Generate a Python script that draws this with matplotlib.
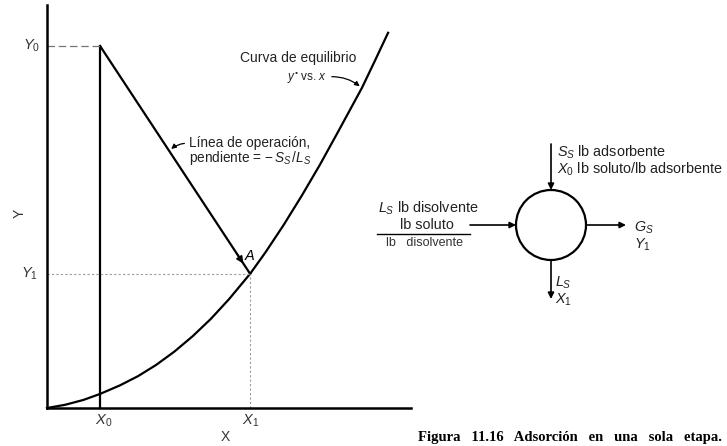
import numpy as np
import matplotlib.pyplot as plt
from matplotlib.patches import Circle

plt.rcParams['font.family'] = ['Liberation Sans', 'DejaVu Sans']
plt.rcParams['mathtext.fontset'] = 'custom'
plt.rcParams['mathtext.rm'] = 'Liberation Sans'
plt.rcParams['mathtext.it'] = 'Liberation Sans:italic'

# Equilibrium curve y* vs. x (arbitrary units 0..1)
eq_x = [0.0, 0.05, 0.10, 0.146, 0.20, 0.25, 0.30, 0.35, 0.40, 0.45, 0.50, 0.558,
        0.60, 0.65, 0.70, 0.75, 0.80, 0.865, 0.90, 0.937]
eq_y = [0.0, 0.008, 0.020, 0.035, 0.056, 0.079, 0.107, 0.140, 0.178, 0.221, 0.270, 0.333,
        0.386, 0.454, 0.527, 0.604, 0.686, 0.794, 0.860, 0.931]

# Feed and outlet compositions
X0, Y0 = 0.146, 0.898
X1, Y1 = 0.558, 0.333

fig = plt.figure(figsize=(7.27, 4.46), dpi=100)

# ---- Operating diagram ----
ax = fig.add_axes([47 / 727, 38 / 446, 364 / 727, 403 / 446])
ax.set_xlim(0, 1)
ax.set_ylim(0, 1)
for s in ['top', 'right']:
    ax.spines[s].set_visible(False)
for s in ['left', 'bottom']:
    ax.spines[s].set_linewidth(1.8)
ax.set_xticks([])
ax.set_yticks([])
ax.patch.set_alpha(0)

ax.plot(eq_x, eq_y, color='black', lw=1.6, clip_on=False, solid_joinstyle='round')
ax.plot([X0, X1], [Y0, Y1], color='black', lw=1.6)
ax.plot([X0, X0], [0, Y0], color='black', lw=1.6)
ax.plot([0, X0], [Y0, Y0], color='#777777', lw=0.9, ls=(0, (6, 3)))
ax.plot([0, X1], [Y1, Y1], color='#999999', lw=0.8, ls=(0, (2, 2)))
ax.plot([X1, X1], [0, Y1], color='#999999', lw=0.8, ls=(0, (2, 2)))

# arrowhead on the operating line just before point A
t = np.array([0.90, 0.965])
px = X0 + t * (X1 - X0)
py = Y0 + t * (Y1 - Y0)
ax.annotate('', xy=(px[1], py[1]), xytext=(px[0], py[0]),
            arrowprops=dict(arrowstyle='-|>', color='black', lw=1.2, mutation_scale=10))

lab = dict(fontsize=10.5, color='#333333', va='center')
ax.text(-0.018, Y0, '$Y_0$', ha='right', **lab)
ax.text(-0.025, Y1, '$Y_1$', ha='right', **lab)
ax.text(X0 + 0.01, -0.032, '$X_0$', ha='center', **lab)
ax.text(X1, -0.032, '$X_1$', ha='center', **lab)
ax.text(0.49, -0.072, 'X', ha='center', va='center', fontsize=10, color='#333333')
ax.text(-0.074, 0.484, 'Y', ha='center', va='center', fontsize=10, rotation=90, color='#333333')
ax.text(0.556, 0.378, '$A$', ha='center', va='center', fontsize=10.5)

ax.text(0.69, 0.868, 'Curva de equilibrio', ha='center', va='center', fontsize=10, color='#222222')
ax.text(0.77, 0.82, '$y^{\u2022}$ vs. $x$', ha='right', va='center', fontsize=8.5, color='#222222')
ax.annotate('', xy=(eq_x[17], eq_y[17]), xytext=(0.775, 0.822),
            arrowprops=dict(arrowstyle='-|>', color='black', lw=0.9, mutation_scale=7,
                            connectionstyle='arc3,rad=-0.2'))

op_t = 0.46
ox = X0 + op_t * (X1 - X0)
oy = Y0 + op_t * (Y1 - Y0)
ax.text(0.39, 0.657, 'Línea de operación,', ha='left', va='center', fontsize=9.8, color='#222222')
ax.text(0.39, 0.620, 'pendiente = $-\\,S_S\\,/L_S$', ha='left', va='center', fontsize=9.8, color='#222222')
ax.annotate('', xy=(ox, oy), xytext=(0.385, 0.657),
            arrowprops=dict(arrowstyle='-|>', color='black', lw=0.9, mutation_scale=7,
                            connectionstyle='arc3,rad=0.2'))

# ---- Single-stage flow sketch (pixel coordinates) ----
ov = fig.add_axes([0, 0, 1, 1])
ov.set_xlim(0, 727)
ov.set_ylim(446, 0)
ov.axis('off')
ov.patch.set_alpha(0)

cx, cy, r = 551, 225, 35
ov.add_patch(Circle((cx, cy), r, fill=False, lw=1.6, ec='black'))
arrow = dict(arrowstyle='-|>', color='black', lw=1.2, mutation_scale=9, shrinkA=0, shrinkB=0)
ov.annotate('', xy=(cx, cy - r), xytext=(cx, cy - r - 46), arrowprops=arrow)
ov.annotate('', xy=(cx - r, cy), xytext=(cx - r - 46, cy), arrowprops=arrow)
ov.annotate('', xy=(cx + r + 40, cy), xytext=(cx + r, cy), arrowprops=arrow)
ov.annotate('', xy=(cx, cy + r + 39), xytext=(cx, cy + r), arrowprops=arrow)

txt = dict(fontsize=10.4, color='#222222', va='center')
ov.text(557, 152, '$S_S$ lb adsorbente', ha='left', **txt)
ov.text(557, 169, '$X_0$ lb soluto/lb adsorbente', ha='left', **txt)

ov.text(428, 208, '$L_S$ lb disolvente', ha='center', **txt)
ov.text(427, 225, 'lb soluto', ha='center', **txt)
ov.plot([377, 470], [234, 234], color='black', lw=1.0)
ov.text(424, 243, 'lb   disolvente', ha='center', va='center', fontsize=9, color='#333333')

ov.text(634, 228, '$G_S$', ha='left', **txt)
ov.text(634, 245, '$Y_1$', ha='left', **txt)
ov.text(555, 283, '$L_S$', ha='left', **txt)
ov.text(555, 300, '$X_1$', ha='left', **txt)

ov.text(722, 437, 'Figura   11.16   Adsorción   en   una   sola   etapa.', ha='right', va='center',
        fontsize=10.5, fontweight='bold', family='Liberation Serif')

fig.savefig('out.png', dpi=100, facecolor='white')
